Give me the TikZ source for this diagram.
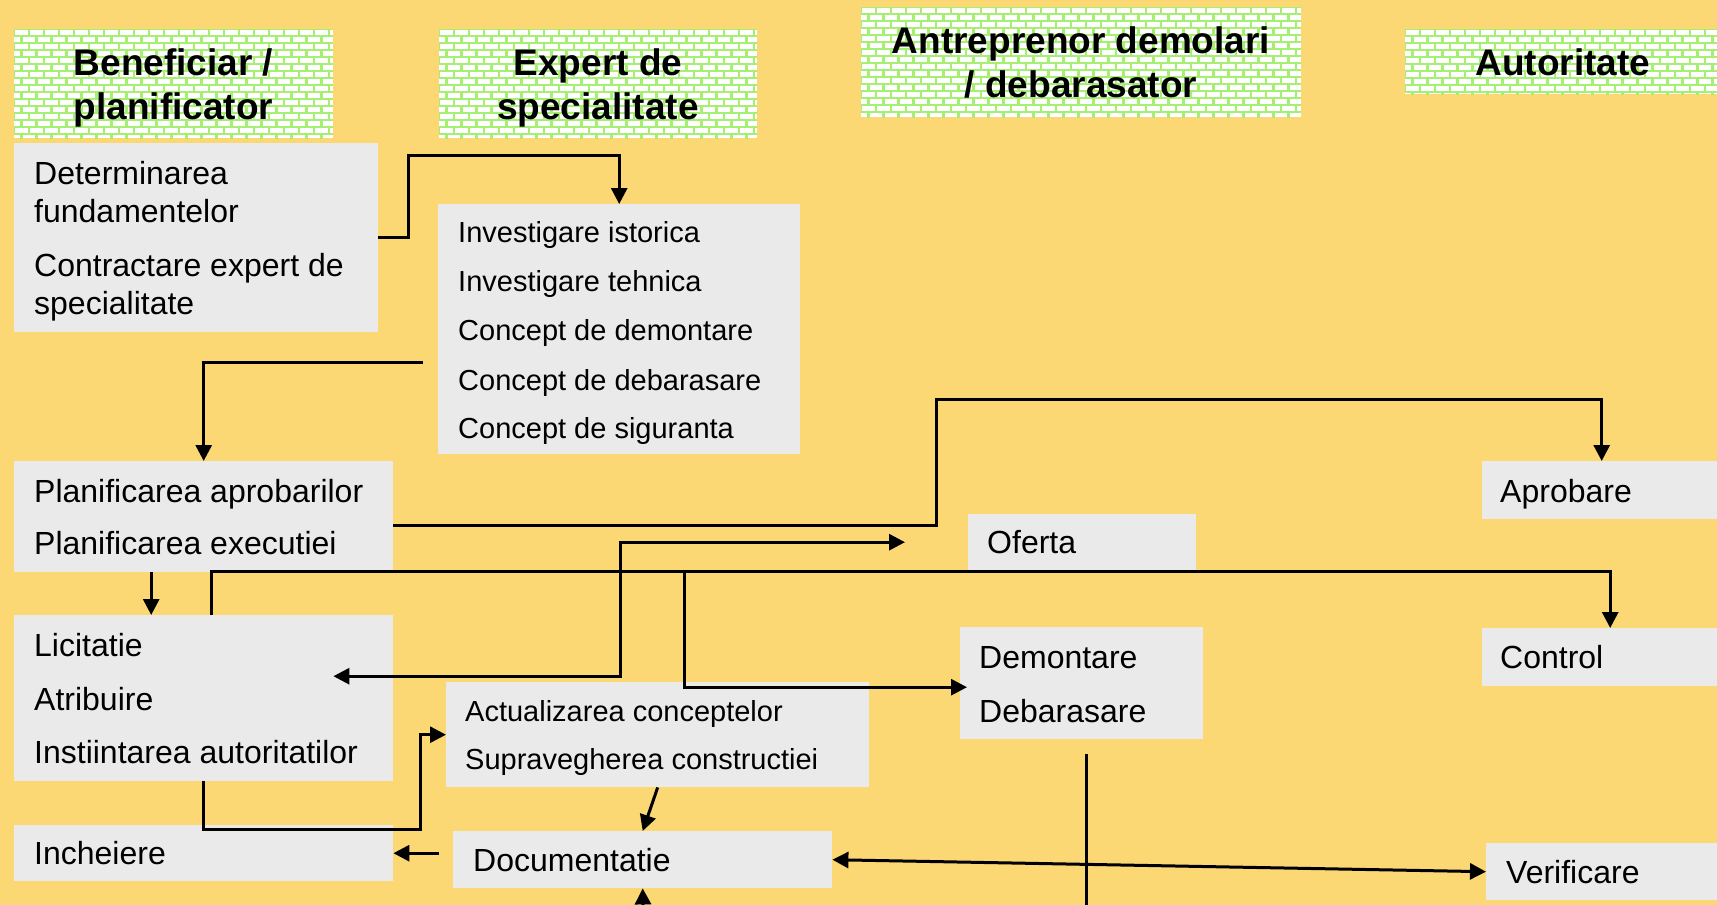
\documentclass[tikz,border=0pt]{standalone}
\usepackage{fontspec}
\setmainfont{Liberation Sans}
\usetikzlibrary{arrows.meta,calc}
\definecolor{bgyellow}{RGB}{252,216,117}
\definecolor{boxgray}{RGB}{234,234,234}
\definecolor{mortar}{RGB}{165,240,115}
\newcommand\brickwall[4]{%
  \begin{scope}
    \clip (#1,#2) rectangle (#3,#4);
    \fill[white] (#1,#2) rectangle (#3,#4);
    \pgfmathtruncatemacro\nrows{(#4-#2)/7+1}
    \pgfmathtruncatemacro\ncols{(#3-#1)/15+1}
    \foreach \r in {0,...,\nrows} {
      \pgfmathsetmacro\yy{#2+\r*7}
      \pgfmathsetmacro\off{mod(\r,2)*7.5}
      \draw[mortarline] (#1,\yy) -- (#3,\yy);
      \foreach \c in {0,...,\ncols} {
        \draw[mortarline] ({#1+\off+\c*15},\yy) -- ++(0,7);
      }
    }
  \end{scope}}
\tikzset{
  mortarline/.style={draw=mortar, line width=2.4pt},
  box/.style={fill=boxgray, inner sep=0pt, anchor=north west},
  hdr/.style={align=center, inner sep=0pt, font=\bfseries\fontsize{37}{44}\selectfont},
  txt/.style={anchor=west, inner sep=0pt, text height=23pt, text depth=0pt, font=\fontsize{32}{38}\selectfont},
  stxt/.style={anchor=west, inner sep=0pt, text height=21pt, text depth=0pt, font=\fontsize{29}{35}\selectfont},
  conn/.style={line width=3pt},
  arr/.style={conn, -{Triangle[length=16pt,width=16pt]}},
  arrtwo/.style={conn, {Triangle[length=16pt,width=16pt]}-{Triangle[length=16pt,width=16pt]}}
}
\begin{document}
\begin{tikzpicture}[x=1pt,y=-1pt]
\useasboundingbox (0,0) rectangle (1717,905);
\fill[bgyellow] (0,0) rectangle (1717,905);

% headers
\brickwall{14}{29}{333}{138}
\brickwall{439}{29}{757}{138}
\brickwall{861}{7}{1301}{117}
\brickwall{1405}{29}{1717}{94}
\node[hdr] (h1) at (173.5,88) {Beneficiar /\\planificator};
\node[hdr] (h2) at (598,88) {Expert de\\specialitate};
\node[hdr] (h3) at (1081,62) {Antreprenor demolari\\/ debarasator};
\node[hdr] (h4) at (1563,62) {Autoritate};

% boxes
\node[box, minimum width=364pt, minimum height=189pt] (det) at (14,143) {};
\node[box, minimum width=362pt, minimum height=250pt] (inv) at (438,204) {};
\node[box, minimum width=379pt, minimum height=111pt] (plan) at (14,461) {};
\node[box, minimum width=379pt, minimum height=166pt] (lic) at (14,615) {};
\node[box, minimum width=379pt, minimum height=56pt] (inch) at (14,825) {};
\node[box, minimum width=423pt, minimum height=105pt] (act) at (446,682) {};
\node[box, minimum width=379pt, minimum height=57pt] (doc) at (453,831) {};
\node[box, minimum width=228pt, minimum height=56pt] (ofe) at (968,514) {};
\node[box, minimum width=243pt, minimum height=112pt] (dem) at (960,627) {};
\node[box, minimum width=235pt, minimum height=58pt] (aprob) at (1482,461) {};
\node[box, minimum width=235pt, minimum height=58pt] (ctrl) at (1482,628) {};
\node[box, minimum width=231pt, minimum height=57pt] (verif) at (1486,843) {};

% texts
\node[txt] (det1) at (34,173) {Determinarea};
\node[txt] (det2) at (34,211) {fundamentelor};
\node[txt] (det3) at (34,265) {Contractare expert de};
\node[txt] (det4) at (34,303) {specialitate};

\node[stxt] (inv1) at (458,232) {Investigare istorica};
\node[stxt] (inv2) at (458,281) {Investigare tehnica};
\node[stxt] (inv3) at (458,330) {Concept de demontare};
\node[stxt] (inv4) at (458,380) {Concept de debarasare};
\node[stxt] (inv5) at (458,428) {Concept de siguranta};

\node[txt] (plan1) at (34,491) {Planificarea aprobarilor};
\node[txt] (plan2) at (34,543) {Planificarea executiei};

\node[txt] (lic1) at (34,645) {Licitatie};
\node[txt] (lic2) at (34,699) {Atribuire};
\node[txt] (lic3) at (34,752) {Instiintarea autoritatilor};

\node[txt] (inch1) at (34,853) {Incheiere};

\node[stxt] (act1) at (465,711) {Actualizarea conceptelor};
\node[stxt] (act2) at (465,759) {Supravegherea constructiei};

\node[txt] (doc1) at (473,860) {Documentatie};
\node[txt] (ofe1) at (987,542) {Oferta};
\node[txt] (dem1) at (979,657) {Demontare};
\node[txt] (dem2) at (979,711) {Debarasare};
\node[txt] (aprob1) at (1500,491) {Aprobare};
\node[txt] (ctrl1) at (1500,657) {Control};
\node[txt] (verif1) at (1506,872) {Verificare};

% connectors
\draw[arr] (det.east) -- ++(30,0) |- ($(inv.north)+(0,-49)$) -- (inv.north);
\draw[arr] ($(inv.south west)+(-15,-92)$) -| (plan.north);
\draw[arr] ([yshift=-9pt]plan.east) -| (936,399) -| ([xshift=2pt]aprob.north);
\draw[arr] ([xshift=-52.5pt]plan.south) -- ([xshift=-52.5pt]lic.north);
\draw[arrtwo] ([xshift=-60pt,yshift=22pt]lic.east) -| ($(ofe.west)+(-348,0)$) -- ([xshift=-63pt]ofe.west);
\draw[arr] ([xshift=7.5pt]lic.north) -- ++(0,-44) -| ([xshift=10.5pt]ctrl.north);
\coordinate (j1) at (684,571);
\draw[arr] (j1) |- ([xshift=7pt,yshift=-4pt]dem.west);
\draw[arr] (lic.south) |- ($(act.west)+(-26,95)$) |- (act.west);
\draw[arr] (act.south) -- (doc.north);
\draw[arr] ($(doc.west |- inch.east)+(-14,0)$) -- (inch.east);
\coordinate (docin) at (643,905);
\draw[arr] (docin) -- (doc.south);
\draw[arrtwo] (doc.east) -- (verif.west);
\draw[conn] ($(dem.south)+(5,15)$) -- ++(0,151);
\end{tikzpicture}
\end{document}
